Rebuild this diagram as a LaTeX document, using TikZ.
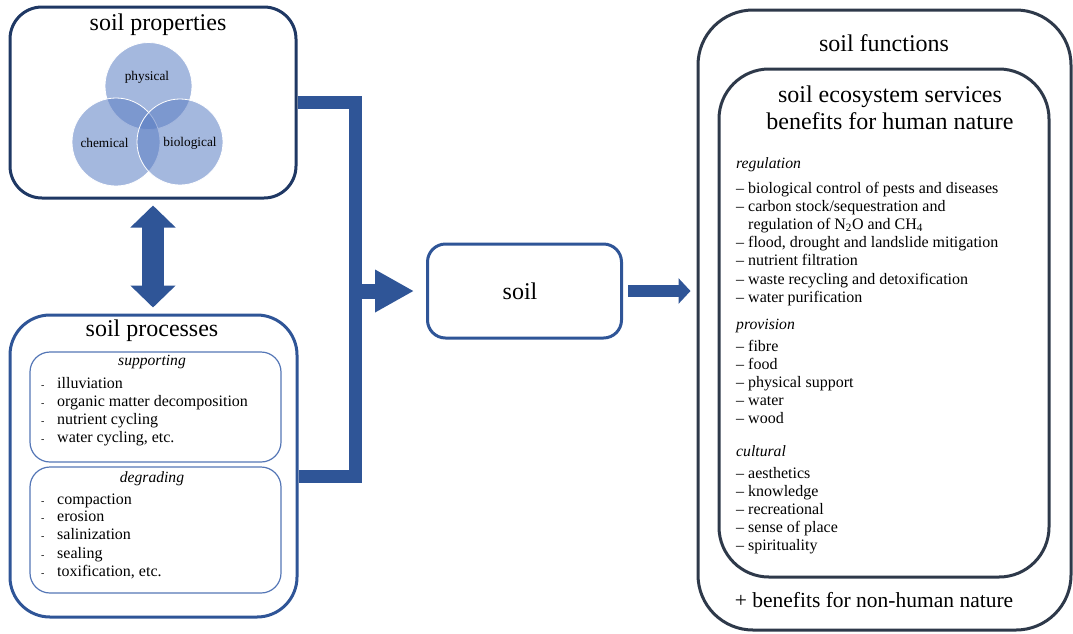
\documentclass[tikz,border=0pt]{standalone}
\usepackage{fontspec}
\setmainfont{Liberation Serif}
\usetikzlibrary{arrows.meta}
\definecolor{navy}{RGB}{31,56,100}
\definecolor{arrowblue}{RGB}{47,85,151}
\definecolor{slate}{RGB}{46,57,74}
\definecolor{thinblue}{RGB}{84,118,182}
\definecolor{venn}{RGB}{90,125,195}
\begin{document}
\begin{tikzpicture}[x=1pt,y=-1pt,
  bigbox/.style={draw, line width=3pt, minimum width=#1},
  innerbox/.style={draw=thinblue, line width=1.2pt, rounded corners=20pt, minimum width=251pt},
  vennc/.style={circle, fill=venn, fill opacity=0.55, draw=white, line width=0.8pt, inner sep=0pt},
  title/.style={font=\fontsize{24}{28}\selectfont, inner sep=0pt},
  item/.style={font=\fontsize{16}{18}\selectfont, anchor=base west, inner sep=0pt},
  head/.style={font=\fontsize{15.7}{18}\selectfont\itshape, anchor=base west, inner sep=0pt},
  pipe/.style={draw=arrowblue, line width=13pt, line join=miter}]
\useasboundingbox (0,0) rectangle (1073,633);

% soil properties
\node[bigbox=286pt, draw=navy, rounded corners=32pt, minimum height=191pt] (props) at (153,102.5) {};
\node[title] (propsT) at (158,25) {soil properties};
\node[vennc, minimum size=87pt] (cphys) at (148.5,86) {};
\node[vennc, minimum size=88pt] (cchem) at (116,142) {};
\node[vennc, minimum size=86pt] (cbio) at (180,142) {};
\node[font=\fontsize{13.3}{15}\selectfont] (lphys) at (147,77) {physical};
\node[font=\fontsize{13.3}{15}\selectfont] (lchem) at (104.5,143) {chemical};
\node[font=\fontsize{13.3}{15}\selectfont] (lbio) at (190,143) {biological};

% soil processes
\node[bigbox=287pt, draw=arrowblue, rounded corners=40pt, minimum height=302pt] (procs) at (153.5,466) {};
\node[title] (procsT) at (152,331) {soil processes};
\node[innerbox, minimum height=110pt] (sup) at (155.5,407) {};
\node[innerbox, minimum height=126pt] (deg) at (155.5,530) {};
\node[font=\fontsize{15.6}{18}\selectfont\itshape, inner sep=0pt] (supT) at (152,362) {supporting};
\node[font=\fontsize{15.6}{18}\selectfont\itshape, inner sep=0pt] (degT) at (152,479) {degrading};
\foreach \t [count=\i] in {illuviation, organic matter decomposition, nutrient cycling, {water cycling, etc.}} {
  \node[item] (sd\i) at (41,{370.5+18*\i}) {\fontsize{10}{10}\selectfont -};
  \node[item] (s\i) at (57,{370.5+18*\i}) {\t};
}
\foreach \t/\y [count=\i] in {compaction/504.5, erosion/521.5, salinization/539.5, sealing/558.5, {toxification, etc.}/576.5} {
  \node[item] (dd\i) at (41,\y) {\fontsize{10}{10}\selectfont -};
  \node[item] (d\i) at (57,\y) {\t};
}

% central soil
\node[draw=arrowblue, line width=3pt, rounded corners=18pt, minimum width=194pt, minimum height=94pt] (soil) at (524.5,291) {};
\node[title] (soilT) at (520,291) {soil};

% soil functions
\node[bigbox=373pt, draw=slate, rounded corners=55pt, minimum height=620pt] (func) at (884.5,320) {};
\node[draw=slate, line width=3pt, rounded corners=50pt, minimum width=330pt, minimum height=508pt] (ess) at (884,323) {};
\node[title] (funcT) at (884,43) {soil functions};
\node[font=\fontsize{24}{27}\selectfont, align=center, inner sep=0pt] (essT) at (890,107.5) {soil ecosystem services\\benefits for human nature};
\node[font=\fontsize{21.5}{24}\selectfont, inner sep=0pt] (nonhuman) at (874,600) {+ benefits for non-human nature};

\node[head] (regH) at (736,168) {regulation};
\foreach \t/\y [count=\i] in {
  {– biological control of pests and diseases}/193,
  {– carbon stock/sequestration and}/211,
  {\hphantom{– }regulation of N\textsubscript{2}O and CH\textsubscript{4}}/229,
  {– flood, drought and landslide mitigation}/247,
  {– nutrient filtration}/265,
  {– waste recycling and detoxification}/284,
  {– water purification}/302} {
  \node[item] (r\i) at (736,\y) {\t};
}
\node[head] (provH) at (736,329) {provision};
\foreach \t/\y [count=\i] in {{– fibre}/351, {– food}/369, {– physical support}/387, {– water}/405, {– wood}/423} {
  \node[item] (p\i) at (736,\y) {\t};
}
\node[head] (cultH) at (736,456) {cultural};
\foreach \t/\y [count=\i] in {{– aesthetics}/478, {– knowledge}/496, {– recreational}/514, {– sense of place}/532, {– spirituality}/550} {
  \node[item] (c\i) at (736,\y) {\t};
}

% connectors
\coordinate (jt) at (355.5,102.5);
\coordinate (jb) at (355.5,476.5);
\draw[pipe] (props.east) -- (jt) -- (jb) -- ([yshift=-10.5pt]procs.east);
\draw[draw=arrowblue, fill=arrowblue, line width=15pt, -{Triangle[length=39pt,width=40pt]}, shorten >=12pt]
  (jt |- soil.west) -- (soil.west);
\draw[draw=arrowblue, fill=arrowblue, line width=12pt, -{Triangle[length=12pt,width=25pt]}, shorten <=5pt, shorten >=6pt]
  (soil.east) -- (soil.east -| func.west);
\draw[draw=arrowblue, fill=arrowblue, line width=22pt, {Triangle[length=22pt,width=44pt]}-{Triangle[length=22pt,width=44pt]}, shorten <=6pt, shorten >=6pt]
  (props.south) -- (props.south |- procs.north);
\end{tikzpicture}
\end{document}
